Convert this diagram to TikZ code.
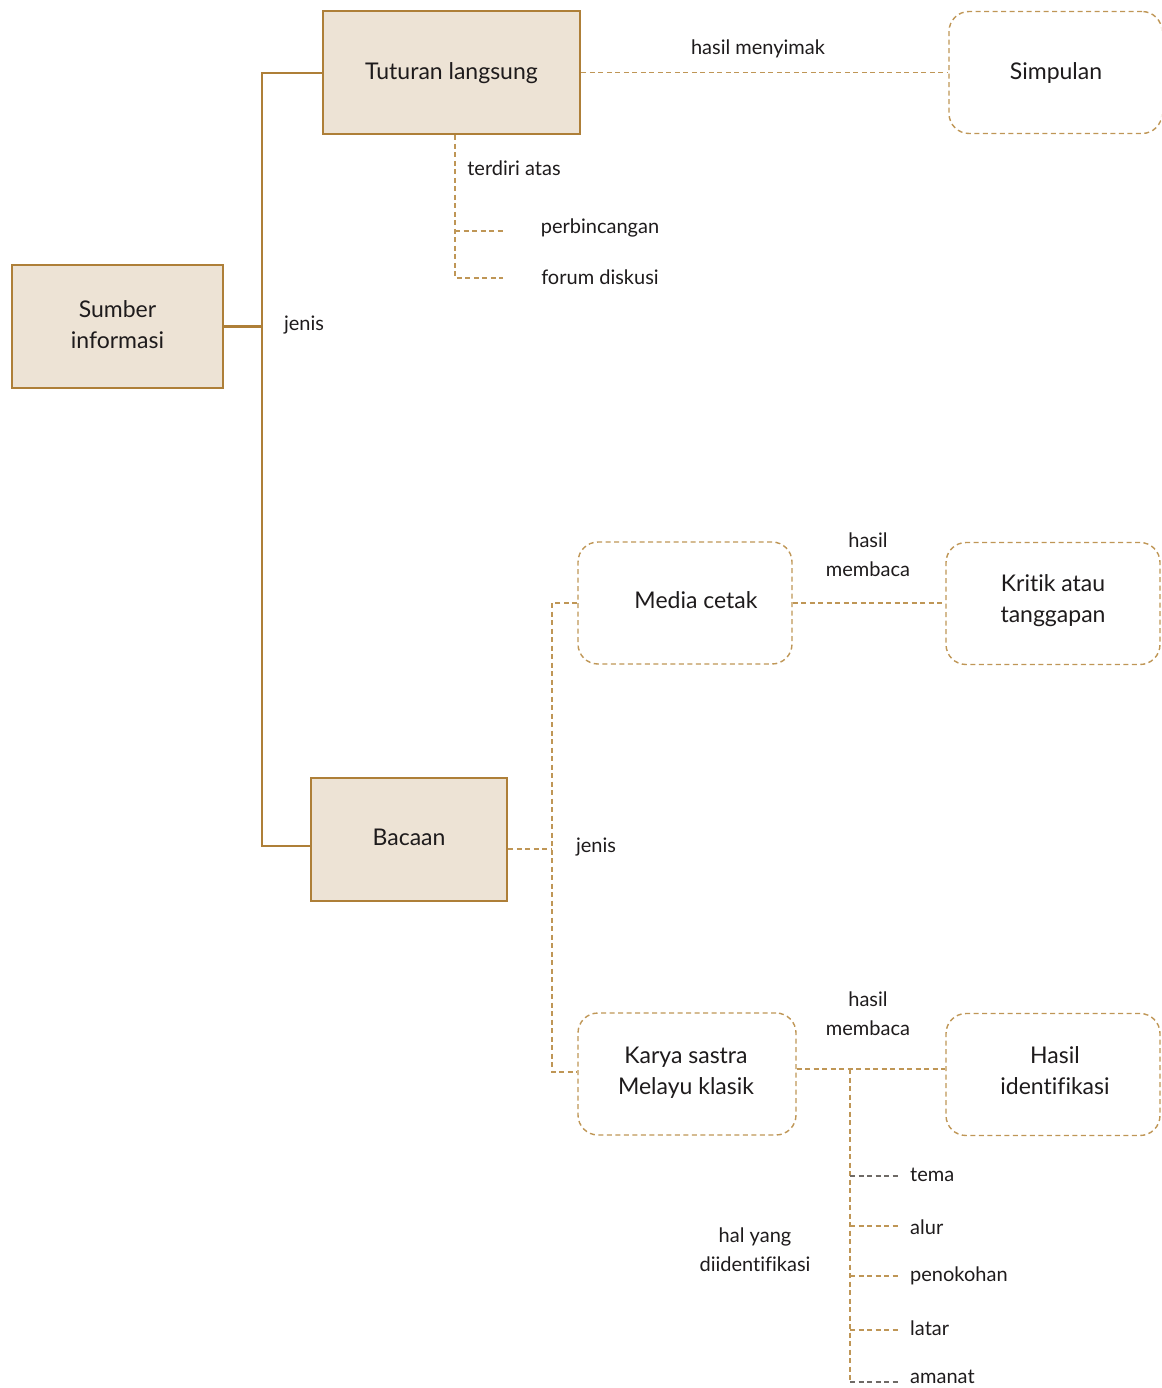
\documentclass[tikz,border=0pt]{standalone}
\usepackage{fontspec}
\setmainfont{Lato}[Ligatures=NoCommon]
\definecolor{boxfill}{HTML}{EDE3D5}
\definecolor{boxline}{HTML}{AE7F38}
\definecolor{dashcol}{HTML}{BF9656}
\definecolor{txt}{HTML}{1E1B1C}
\definecolor{graydash}{HTML}{6E6A66}
\newcommand{\boxfont}{\fontsize{23}{31}\selectfont}
\newcommand{\labfont}{\fontsize{20}{29}\selectfont}
\begin{document}
\begin{tikzpicture}[x=1pt,y=-1pt,
  solidbox/.style={draw=boxline, fill=boxfill, line width=2.8pt, align=center, font=\boxfont, text=txt, inner sep=0pt},
  dashbox/.style={draw=dashcol, line width=1.4pt, dash pattern=on 5pt off 3.5pt, rounded corners=20pt, align=center, font=\boxfont, text=txt, inner sep=0pt},
  solidline/.style={draw=boxline, line width=2.8pt},
  dline/.style={draw=dashcol, line width=1.4pt, dash pattern=on 5pt off 3.5pt},
  gline/.style={draw=graydash, line width=1.4pt, dash pattern=on 5pt off 3.5pt},
  lab/.style={font=\labfont, text=txt, align=center, inner sep=0pt},
  leaf/.style={font=\labfont, text=txt, anchor=west, inner sep=0pt}]
\useasboundingbox (0,0) rectangle (1161,1388);
\clip (0,0) rectangle (1161,1388);
% solid boxes
\node[solidbox, minimum width=211pt, minimum height=123pt] (sum) at (117.5,326.5) {};
\node[lab, font=\boxfont] (sumt) at (117.5,325) {Sumber\\informasi};
\node[solidbox, minimum width=257pt, minimum height=123pt] (tut) at (451.5,72.5) {};
\node[lab, font=\boxfont] (tutt) at (451.5,73) {Tuturan langsung};
\node[solidbox, minimum width=196pt, minimum height=123pt] (bac) at (409,839.5) {};
\node[lab, font=\boxfont] (bact) at (409,837) {Bacaan};
% dashed boxes
\node[dashbox, minimum width=213pt, minimum height=122pt] (simp) at (1055.5,72.5) {};
\node[lab, font=\boxfont] (simpt) at (1056,73) {Simpulan};
\node[dashbox, minimum width=214pt, minimum height=122pt] (med) at (685,603) {};
\node[lab, font=\boxfont] (medt) at (696,600) {Media cetak};
\node[dashbox, minimum width=214pt, minimum height=122pt] (krit) at (1053,603.5) {};
\node[lab, font=\boxfont] (kritt) at (1053,601) {Kritik atau\\tanggapan};
\node[dashbox, minimum width=218pt, minimum height=122pt] (kar) at (687,1074) {};
\node[lab, font=\boxfont] (kart) at (686,1073) {Karya sastra\\Melayu klasik};
\node[dashbox, minimum width=214pt, minimum height=122pt] (hasil) at (1053,1074.5) {};
\node[lab, font=\boxfont] (hasilt) at (1055,1070.5) {Hasil\\identifikasi};
% solid connectors
\coordinate (j0) at (262,326.5);
\coordinate (j1) at (262,73);
\coordinate (j2) at (262,846);
\draw[solidline] (sum.east) -- (j0);
\draw[solidline] (tut.west |- j1) -- (j1) -- (j2) -- (bac.west |- j2);
\node[lab] (jenis1) at (304,325) {jenis};
% Tuturan -> Simpulan
\draw[dline] (tut.east) -- (simp.west);
\node[lab] (hm) at (758,49) {hasil menyimak};
% terdiri atas
\coordinate (t1) at (455,231);
\coordinate (t2) at (455,278);
\coordinate (t1e) at (503,231);
\coordinate (t2e) at (503,278);
\draw[dline] (tut.south -| t2) -- (t2) -- (t2e);
\draw[dline] (t1) -- (t1e);
\node[lab] (ta) at (514,168) {terdiri atas};
\node[lab] (pb) at (600,228) {perbincangan};
\node[lab] (fd) at (600,277) {forum diskusi};
% Bacaan branches
\coordinate (b0) at (552,849);
\coordinate (b1) at (552,603);
\coordinate (b2) at (552,1072);
\draw[dline] (bac.east |- b0) -- (b0);
\draw[dline] (med.west |- b1) -- (b1) -- (b2) -- (kar.west |- b2);
\node[lab] (jenis2) at (596,847) {jenis};
% hasil membaca
\draw[dline] (med.east |- b1) -- (krit.west |- b1);
\node[lab] (hb1) at (868,555) {hasil\\membaca};
\coordinate (k0) at (850,1069);
\draw[dline] (kar.east |- k0) -- (hasil.west |- k0);
\node[lab] (hb2) at (868,1014) {hasil\\membaca};
% identified items
\coordinate (i1) at (850,1176);
\coordinate (i2) at (850,1226);
\coordinate (i3) at (850,1276);
\coordinate (i4) at (850,1330);
\coordinate (i5) at (850,1382);
\draw[dline] (k0) -- (i5);
\draw[gline] (i1) -- ++(50,0) coordinate (i1e);
\draw[dline] (i2) -- ++(50,0) coordinate (i2e);
\draw[dline] (i3) -- ++(50,0) coordinate (i3e);
\draw[dline] (i4) -- ++(50,0) coordinate (i4e);
\draw[gline] (i5) -- ++(50,0) coordinate (i5e);
\node[leaf] (tema) at (910,1175) {tema};
\node[leaf] (alur) at (910,1227) {alur};
\node[leaf] (pen) at (910,1276) {penokohan};
\node[leaf] (lat) at (910,1328) {latar};
\node[leaf] (ama) at (910,1377) {amanat};
\node[lab] (hal) at (755,1250) {hal yang\\diidentifikasi};
\end{tikzpicture}
\end{document}
